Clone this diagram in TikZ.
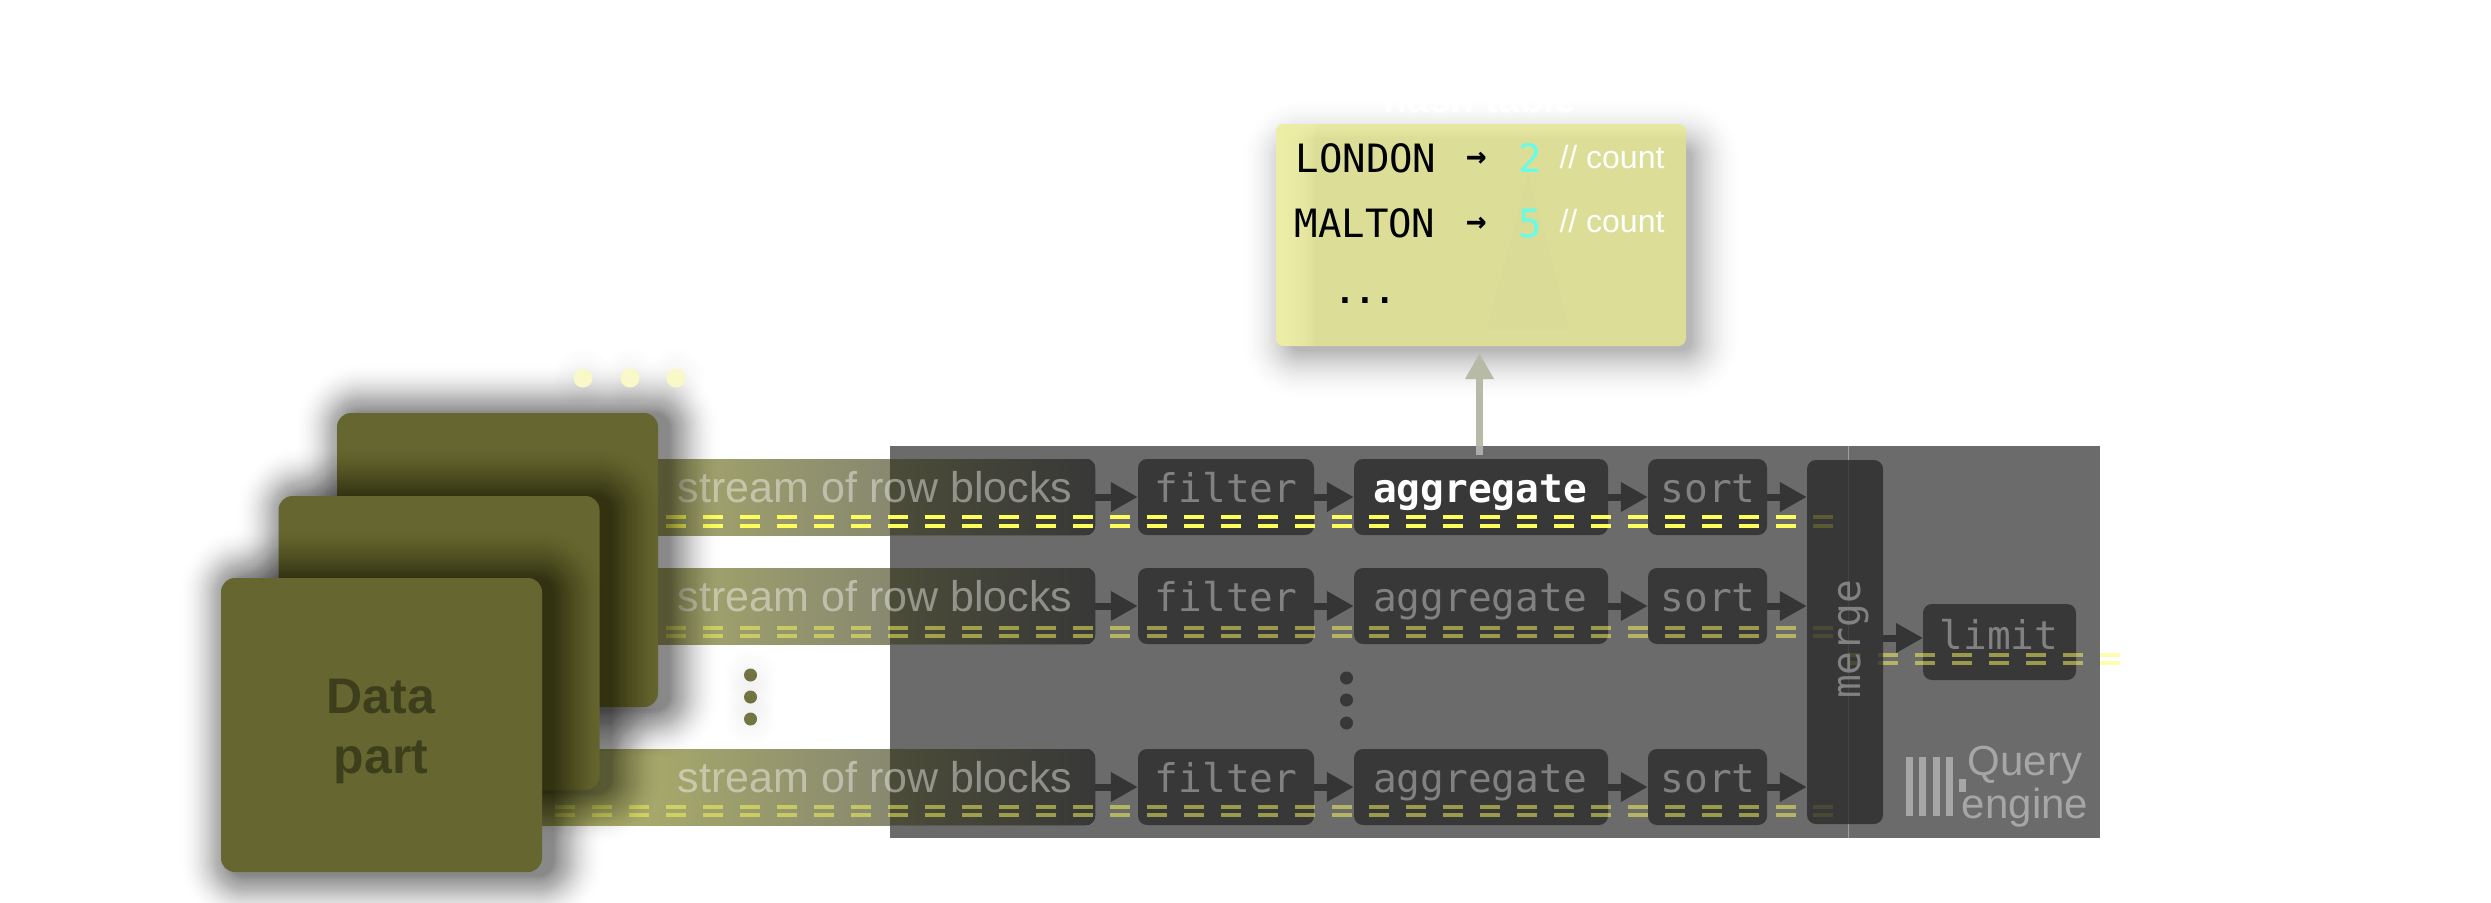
\documentclass[tikz,border=0pt]{standalone}
\usepackage{fontspec}
\setmainfont{Liberation Sans}
\newfontfamily\monof{DejaVu Sans Mono}
\usetikzlibrary{arrows.meta,calc}
\definecolor{cardc}{HTML}{666730}
\definecolor{cardtxt}{HTML}{3D3F1C}
\definecolor{boxc}{HTML}{383838}
\definecolor{panelc}{HTML}{6B6B6B}
\definecolor{bandl}{HTML}{A5A76B}
\definecolor{bandll}{HTML}{B4B769}
\definecolor{bandr}{HTML}{87886F}
\definecolor{bandd}{HTML}{4B4C38}
\definecolor{dashc}{HTML}{FDFD5C}
\definecolor{monot}{HTML}{818181}
\definecolor{resc}{HTML}{DCDE98}
\definecolor{resl}{HTML}{F4F5AD}
\definecolor{cyanc}{HTML}{66FCE8}
\definecolor{logoc}{HTML}{A6A6A6}
\definecolor{upc}{HTML}{B8BAA8}
\definecolor{topdot}{HTML}{F8F8C8}
\definecolor{sidedot}{HTML}{737542}
\newcommand\softshadow[6]{% x0 y0 x1 y1 radius strength
  \foreach \i [evaluate=\i as \rr using #5+2.2*\i,
               evaluate=\i as \oo using #6*0.0018*(25-\i)] in {1,...,24}
    \fill[black,opacity=\oo,rounded corners=\rr pt]
      ({#1-2.2*\i},{#2-2.2*\i}) rectangle ({#3+2.2*\i},{#4+2.2*\i});}
\newcommand\dothalo[3]{% x y r
  \foreach \i in {1,...,8}
    \fill[black,opacity=.005] (#1,#2) circle ({#3+2.5*\i});}
\tikzset{
  x=1pt,y=-1pt,
  proc/.style={fill=boxc,rounded corners=9pt,inner sep=0pt,minimum height=76pt},
  mono/.style={font=\monof\fontsize{39.5}{39.5}\selectfont,text=monot,anchor=base,inner sep=0pt},
  monobold/.style={font=\monof\bfseries\fontsize{39.5}{39.5}\selectfont,text=white,anchor=base,inner sep=0pt},
  streamtxt/.style={font=\fontsize{43}{44}\selectfont,text=white,text opacity=.42,anchor=base,inner sep=0pt},
  flow/.style={draw=boxc!95!black,line width=7pt,-{Triangle[length=27pt,width=28pt]}},
  ddash/.style={line width=4pt,dash pattern=on 20pt off 17pt},
  card/.style={fill=cardc,rounded corners=14pt,inner sep=0pt,minimum width=321pt,minimum height=294pt},
  restxt/.style={font=\monof\fontsize{39}{39}\selectfont,text=black,anchor=base,inner sep=0pt},
  cnt/.style={font=\fontsize{32}{32}\selectfont,text=white,anchor=base,inner sep=0pt},
  logotxt/.style={font=\fontsize{42}{42}\selectfont,text=logoc,anchor=base,inner sep=0pt},
}
\begin{document}
\begin{tikzpicture}
\useasboundingbox (0,0) rectangle (2491,902);
\fill[white] (0,0) rectangle (2491,902);

% query engine panel
\node[fill=panelc,inner sep=0pt,minimum width=1210pt,minimum height=392pt] (panel) at (1495,642) {};
\draw[line width=1pt,draw=white,opacity=.35] (1848,446) -- (1848,838);

\node[coordinate] (uptip) at (1479.5,353) {};

% rows
\foreach \r/\yc/\bx/\lc/\agg in {1/497/658/bandl/monobold,2/606/658/bandl/mono,3/787/542/bandll/mono}{
  \fill[left color=\lc,right color=bandr] (\bx,\yc-38) rectangle (890,\yc+38);
  \fill[left color=bandd,right color=boxc] (890,\yc-38)
     [rounded corners=9pt] -- (1095,\yc-38) -- (1095,\yc+38) [sharp corners] -- (890,\yc+38) -- cycle;
  \node[inner sep=0pt,minimum width=205pt,minimum height=76pt] (s\r) at (992.5,\yc) {};
  \node[proc,minimum width=176pt] (f\r) at (1226,\yc) {};
  \node[proc,minimum width=254pt] (a\r) at (1481,\yc) {};
  \node[proc,minimum width=119pt] (o\r) at (1707.5,\yc) {};
  \node[streamtxt] (st\r) at (875,\yc+5) {stream of row blocks};
  \node[mono] (ft\r) at (1226,\yc+5) {filter};
  \node[\agg] (at\r) at (1480,\yc+5) {aggregate};
  \node[mono] (ot\r) at (1708,\yc+5) {sort};
}
\node[proc,minimum width=153pt] (limit) at (1999.5,642) {};
\node[mono] (limtxt) at (1999,649) {limit};

% dots between rows
\foreach \n/\yy in {1/678,2/700,3/723}
  \node[fill=boxc,circle,inner sep=0pt,minimum size=13pt] (md\n) at (1346.5,\yy) {};

% dashed row streams
\foreach \yy in {517,525.7}
  \draw[ddash,dashc] (666,\yy) -- (1833,\yy);
\foreach \yy in {628,636}
  \draw[ddash,dashc,opacity=.5] (666,\yy) -- (1833,\yy);
\foreach \yy in {807,815}
  \draw[ddash,dashc,opacity=.5] (555,\yy) -- (1833,\yy);
\foreach \yy in {655,663}
  \draw[ddash,dashc,opacity=.5,dash phase=8pt] (1849,\yy) -- (2120,\yy);

% merge
\node[fill=black!85,fill opacity=.75,rounded corners=9pt,inner sep=0pt,minimum width=76pt,minimum height=364pt] (merge) at (1845,642) {};
\node[mono,rotate=90] (mergetxt) at (1860,639.5) {merge};

% connectors
\foreach \r in {1,2,3}{
  \draw[flow] (s\r.east) -- (f\r.west);
  \draw[flow] (f\r.east) -- (a\r.west);
  \draw[flow] (a\r.east) -- (o\r.west);
  \draw[flow] (o\r.east) -- (o\r.east -| merge.west);
}
\coordinate (limin) at (1923,638);
\draw[flow] (merge.east |- limin) -- (limin);

% logo
\foreach \n/\xx in {1/1906,2/1919,3/1932.5,4/1946}
  \fill[logoc] (\xx,757) rectangle (\xx+7,816);
\fill[logoc] (1959,779) rectangle (1966,792);
\node[logotxt] (q1) at (2025,775) {Query};
\node[logotxt] (q2) at (2025,818) {engine};

% data part cards
\softshadow{347}{415}{668}{709}{14}{1}
\node[card] (c3) at (497.5,560) {};
\softshadow{288}{498}{610}{792}{14}{1}
\node[card] (c2) at (439,643) {};
\softshadow{231}{580}{552}{874}{14}{1}
\node[card] (c1) at (381.5,725) {};
\node[font=\bfseries\fontsize{50}{60}\selectfont,text=cardtxt,align=center,inner sep=0pt] (dp) at (381,731) {Data\\part};

% side dots
\foreach \n/\xx in {1/583,2/630,3/676}{
  \dothalo{\xx}{378}{9.5}
  \node[fill=topdot,circle,inner sep=0pt,minimum size=19pt] (td\n) at (\xx,378) {};
}
\foreach \n/\yy in {1/675,2/697,3/719}{
  \dothalo{750.5}{\yy}{6}
  \node[fill=sidedot,circle,inner sep=0pt,minimum size=13pt] (sd\n) at (750.5,\yy) {};
}

% result box
\softshadow{1292}{150}{1690}{349}{8}{.55}
\node[fill=resc,rounded corners=8pt,inner sep=0pt,minimum width=410pt,minimum height=222pt] (res) at (1481,235) {};
\begin{scope}
  \clip[rounded corners=8pt] (res.north west) rectangle (res.south east);
  \foreach \w in {3,6,...,39}
    \fill[resl,opacity=.13] (1276,124) rectangle (1276+\w,346);
  \foreach \h in {2,4,...,14}
    \fill[resl,opacity=.12] (1276,124) rectangle (1686,124+\h);
\end{scope}
\fill[black,opacity=.012,rounded corners=6pt] (1528,172) -- (1570,330) -- (1487,330) -- cycle;
\node[font=\bfseries\fontsize{39}{39}\selectfont,text=white,anchor=base,inner sep=0pt] (rt) at (1480,112) {hash table};
\node[restxt] (r1) at (1366,172) {LONDON};
\node[restxt] (r2) at (1365,237) {MALTON};
\node[restxt,font=\monof\bfseries\fontsize{34}{34}\selectfont] (ar1) at (1477,167) {→};
\node[restxt,font=\monof\bfseries\fontsize{34}{34}\selectfont] (ar2) at (1477,232) {→};
\node[restxt,text=cyanc] (v1) at (1530,172) {2};
\node[restxt,text=cyanc] (v2) at (1530,237) {5};
\node[cnt] (k1) at (1612,168) {// count};
\node[cnt] (k2) at (1612,232) {// count};
\node[restxt,font=\monof\bfseries\fontsize{33}{33}\selectfont] (rd) at (1365,303) {...};

% arrow from aggregate to result
\draw[upc,line width=7pt,-{Triangle[length=26pt,width=27pt]}] (1479.5,446) -- (uptip);
\fill[black!33] (1476,446) rectangle (1483,455);
\end{tikzpicture}
\end{document}
